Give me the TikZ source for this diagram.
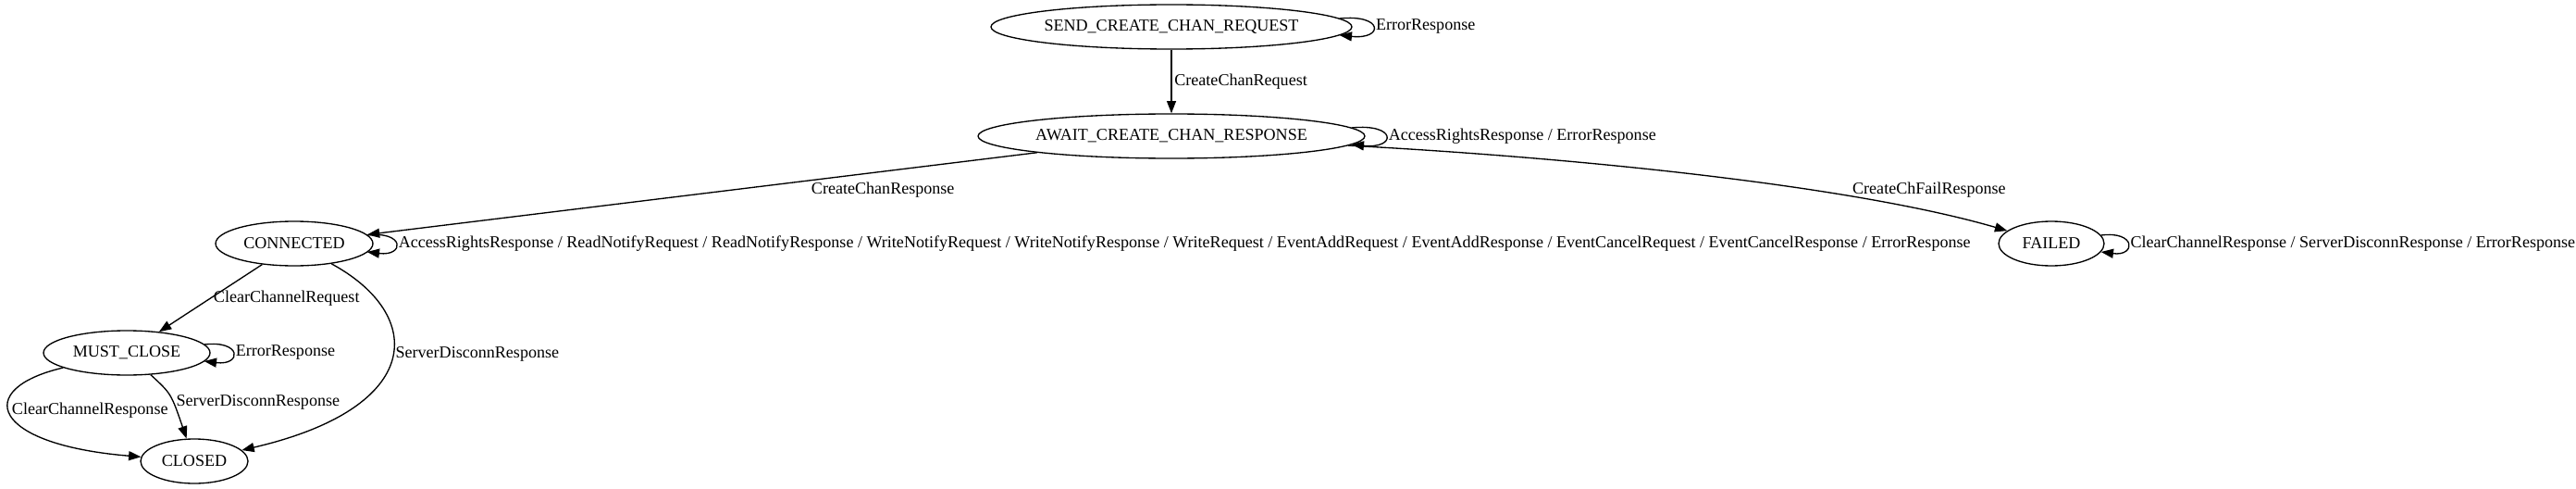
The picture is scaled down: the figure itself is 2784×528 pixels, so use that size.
\documentclass[tikz,border=0pt]{standalone}
\usepackage{fontspec}
\setmainfont{Liberation Serif}
\usetikzlibrary{arrows.meta,shapes.geometric}

\begin{document}
\begin{tikzpicture}[x=.75pt,y=-.75pt,font=\fontsize{13.55}{16}\selectfont,
state/.style={draw,ellipse,line width=1pt,inner sep=0pt,minimum height=36pt},
trans/.style={-{Triangle[length=10pt,width=7.5pt]},line width=1pt},
lbl/.style={inner sep=2pt}]
\useasboundingbox(0,0)rectangle(2784,528);

\node[state,minimum width=292.5pt] (send) at(1266,29){SEND\_CREATE\_CHAN\_REQUEST};
\node[state,minimum width=313.5pt] (await) at(1266,147){AWAIT\_CREATE\_CHAN\_RESPONSE};
\node[state,minimum width=127.5pt] (conn) at(318,263){CONNECTED};
\node[state,minimum width=85.5pt] (failed) at(2217,263){FAILED};
\node[state,minimum width=135pt] (mustclose) at(137,381){MUST\_CLOSE};
\node[state,minimum width=87pt] (closed) at(210,498){CLOSED};

\draw[trans](send)--node[lbl,right]{CreateChanRequest}(await);
\draw[trans](await)--node[lbl,below=6pt,pos=.23]{CreateChanResponse}(conn);
\draw[trans](await).. controls(1700,170)and(2000,200)..(failed) node[lbl,above=9pt,pos=.85]{CreateChFailResponse};
\draw[trans](conn)--node[lbl,right]{ClearChannelRequest}(mustclose);
\draw[trans](conn).. controls(460,340)and(460,440)..(closed) node[lbl,right,pos=.47]{ServerDisconnResponse};
\draw[trans](mustclose).. controls(-30,420)and(-10,480)..(closed) node[lbl,right,pos=.45]{ClearChannelResponse};
\draw[trans](mustclose).. controls(185,425)..(closed) node[lbl,right,pos=.6]{ServerDisconnResponse};

% self loops
\draw[trans]([shift={(-14,-9)}]send.east).. controls +(48,-5)and +(48,5)..([shift={(-14,9)}]send.east) node[lbl,right,pos=.5]{ErrorResponse};
\draw[trans]([shift={(-15,-9)}]await.east).. controls +(49,-5)and +(49,5)..([shift={(-15,9)}]await.east) node[lbl,right,pos=.5]{AccessRightsResponse / ErrorResponse};
\draw[trans]([shift={(-7,-9)}]conn.east).. controls +(41,-5)and +(41,5)..([shift={(-7,9)}]conn.east) node[lbl,right,pos=.5]{AccessRightsResponse / ReadNotifyRequest / ReadNotifyResponse / WriteNotifyRequest / WriteNotifyResponse / WriteRequest / EventAddRequest / EventAddResponse / EventCancelRequest / EventCancelResponse / ErrorResponse};
\draw[trans]([shift={(-7,-9)}]mustclose.east).. controls +(41,-5)and +(41,5)..([shift={(-7,9)}]mustclose.east) node[lbl,right,pos=.5]{ErrorResponse};
\draw[trans]([shift={(-4,-9)}]failed.east).. controls +(38,-5)and +(38,5)..([shift={(-4,9)}]failed.east) node[lbl,right,pos=.5]{ClearChannelResponse / ServerDisconnResponse / ErrorResponse};
\end{tikzpicture}
\end{document}
